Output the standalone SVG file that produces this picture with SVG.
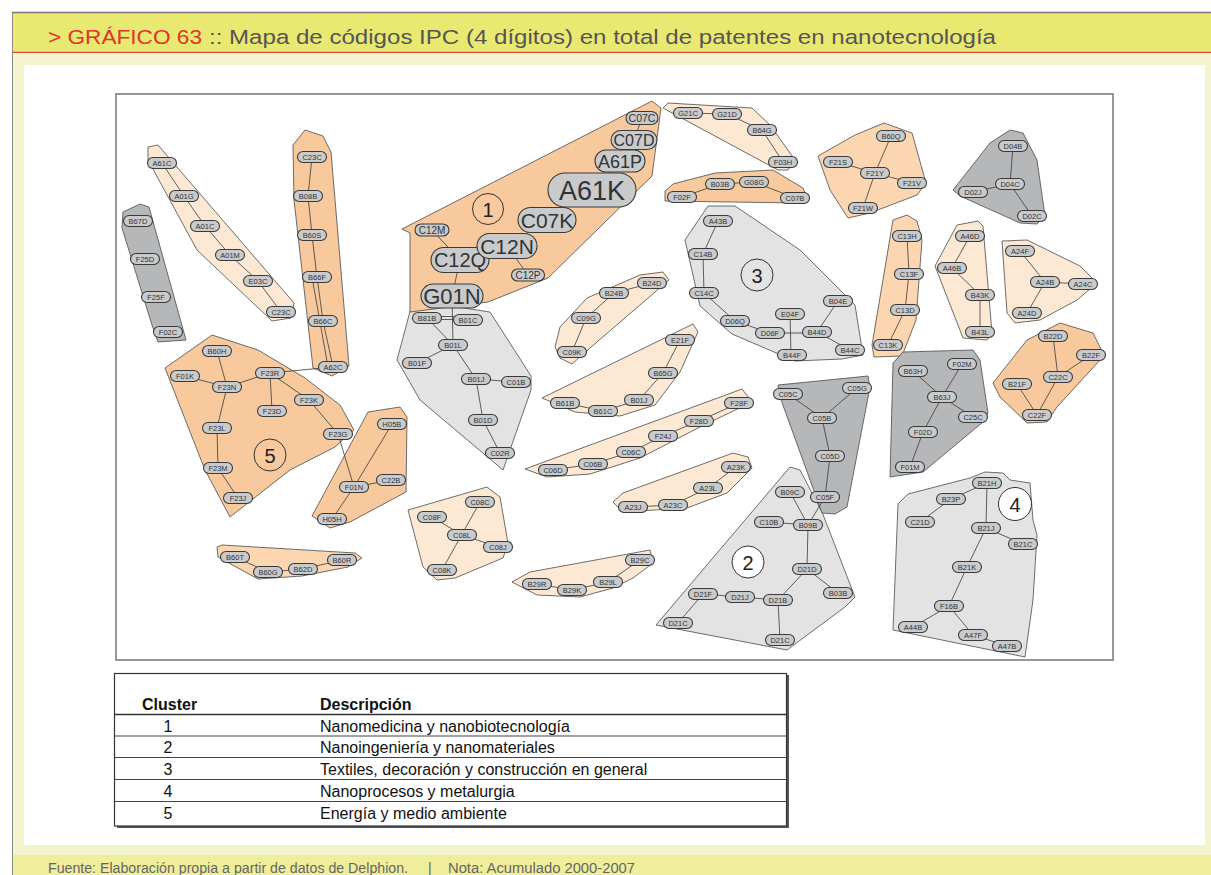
<svg xmlns="http://www.w3.org/2000/svg" width="1211" height="875" viewBox="0 0 1211 875">
<style>
.n rect{fill:#c9cacc;stroke:#3a3a3a;stroke-width:1.1}
.n text{font-family:"Liberation Sans",Arial,sans-serif;font-size:7.5px;fill:#333;text-anchor:middle}
.b text{fill:#333}
#connectors line{stroke:#3a3a3a;stroke-width:0.8}
#clusters polygon{stroke:#4a4a4a;stroke-width:0.8;stroke-linejoin:round}
.lo{fill:#fde8d4}.mo{fill:#f8c99d}.lm{fill:#fcd6b0}.lg{fill:#e3e3e3}.dg{fill:#b6b7b9}
.cn circle{stroke:#333;stroke-width:1}
.cn text{font-family:"Liberation Sans",Arial,sans-serif;font-size:20px;fill:#222;text-anchor:middle}
.tb{font-family:"Liberation Sans",Arial,sans-serif;font-size:16px;fill:#111}
</style>
<rect x="0" y="0" width="1211" height="875" fill="#ffffff"/>
<rect x="12" y="12" width="1199" height="41" fill="#e9e972"/>
<line x1="12" y1="12.5" x2="1211" y2="12.5" stroke="#777" stroke-width="1.5"/>
<line x1="12" y1="52.5" x2="1211" y2="52.5" stroke="#d9503f" stroke-width="1.5"/>
<rect x="12" y="53.5" width="1199" height="801.5" fill="#f4f4cf"/>
<rect x="24" y="65" width="1181" height="780" fill="#ffffff"/>
<rect x="12" y="855" width="1199" height="20" fill="#efee9a"/>
<line x1="12.5" y1="12" x2="12.5" y2="875" stroke="#8a8a8a" stroke-width="1"/>
<text x="48" y="44" font-family="Liberation Sans, Arial, sans-serif" font-size="20.5" fill="#e0352b" textLength="154" lengthAdjust="spacingAndGlyphs">&gt; GRÁFICO 63</text>
<text x="209" y="44" font-family="Liberation Sans, Arial, sans-serif" font-size="20.5" fill="#555" textLength="787" lengthAdjust="spacingAndGlyphs">:: Mapa de códigos IPC (4 dígitos) en total de patentes en nanotecnología</text>
<text x="48" y="873" font-family="Liberation Sans, Arial, sans-serif" font-size="14" fill="#666" textLength="360" lengthAdjust="spacingAndGlyphs">Fuente: Elaboración propia a partir de datos de Delphion.</text>
<text x="428" y="873" font-family="Liberation Sans, Arial, sans-serif" font-size="14" fill="#666">|</text>
<text x="448" y="873" font-family="Liberation Sans, Arial, sans-serif" font-size="14" fill="#666" textLength="187" lengthAdjust="spacingAndGlyphs">Nota: Acumulado 2000-2007</text>

<rect x="116" y="94" width="997" height="566" fill="#fff" stroke="#7d7d7d" stroke-width="1.6"/>

<g id="clusters">
<polygon class="lg" points="413,300 490,312 531,376 531,390 503,470 420,400 397,360"/>
<polygon class="mo" points="402,229 652,101 661,108 652,176 548,278 488,302 410,312 410,233"/>
<polygon class="lo" points="148,147 158,145 294,303 291,318 272,321 197,250 148,160"/>
<polygon class="dg" points="123,212 140,204 149,207 186,340 158,342 152,325 122,228"/>
<polygon class="mo" points="293,145 305,130 323,136 331,152 349,366 332,376 313,368 294,200"/>
<polygon class="lo" points="555,347 560,327 587,298 640,275 663,272 669,280 590,348 572,364 560,358"/>
<polygon class="lo" points="542,398 693,324 698,332 680,372 655,405 620,416 575,412"/>
<polygon class="lo" points="525,469 742,389 752,402 700,427 640,458 590,474 547,477"/>
<polygon class="lo" points="613,502 623,493 733,453 748,457 752,468 727,493 687,508 623,512"/>
<polygon class="lo" points="512,582 530,572 650,550 653,563 633,578 613,588 580,597 537,595"/>
<polygon class="lo" points="408,510 487,487 500,497 508,543 503,558 455,578 437,580 423,567"/>
<polygon class="mo" points="165,368 212,335 258,350 305,378 340,405 354,430 335,447 290,470 230,517 205,470"/>
<polygon class="mo" points="312,516 368,412 400,407 407,417 406,492 350,522 330,528"/>
<polygon class="lm" points="217,547 222,545 355,553 362,558 348,567 302,576 258,579 218,557"/>
<polygon class="lo" points="663,108 668,103 752,108 770,125 795,160 788,170 778,170"/>
<polygon class="mo" points="665,191 673,184 715,173 773,170 803,188 808,200 798,203 665,201"/>
<polygon class="lg" points="708,206 735,206 800,250 855,305 863,355 842,359 795,361 732,334 700,306 685,240"/>
<polygon class="lm" points="818,156 855,135 884,123 912,133 926,183 917,195 870,213 848,218 830,190"/>
<polygon class="dg" points="953,190 990,143 1010,130 1023,133 1037,160 1045,216 1037,224 1020,223 960,196"/>
<polygon class="lm" points="893,220 907,215 917,221 922,240 916,320 902,356 874,357 872,345"/>
<polygon class="lo" points="935,266 957,225 978,221 983,226 992,333 987,340 963,338"/>
<polygon class="lo" points="1002,241 1027,240 1080,266 1097,283 1077,300 1040,320 1015,323 1007,313"/>
<polygon class="mo" points="993,383 1027,340 1060,323 1093,333 1103,353 1100,360 1057,407 1047,422 1027,423 1000,397"/>
<polygon class="dg" points="893,363 903,352 973,350 980,360 988,413 983,422 923,472 890,477"/>
<polygon class="lg" points="790,467 800,470 822,512 855,597 845,607 787,650 656,625"/>
<polygon class="dg" points="778,385 868,376 870,387 847,507 835,514 822,513 780,397"/>
<polygon class="lg" points="893,630 898,504 908,494 970,478 985,472 1003,473 1010,480 1030,483 1033,520 1037,535 1033,600 1025,657"/>
</g>

<g id="connectors">
<line x1="162" y1="163" x2="184" y2="196"/><line x1="184" y1="196" x2="205" y2="226"/><line x1="205" y1="226" x2="230" y2="255"/><line x1="230" y1="255" x2="258" y2="281"/><line x1="258" y1="281" x2="281" y2="312"/>
<line x1="312" y1="157" x2="308" y2="196"/><line x1="308" y1="196" x2="312" y2="235"/><line x1="312" y1="235" x2="317" y2="277"/><line x1="317" y1="277" x2="323" y2="321"/><line x1="323" y1="321" x2="333" y2="367"/><line x1="312" y1="277" x2="328" y2="367"/>
<line x1="642" y1="118" x2="634" y2="140"/><line x1="634" y1="140" x2="620" y2="161"/><line x1="620" y1="161" x2="592" y2="190"/><line x1="592" y1="190" x2="547" y2="220"/><line x1="547" y1="220" x2="507" y2="246"/><line x1="507" y1="246" x2="460" y2="260"/><line x1="460" y1="260" x2="452" y2="296"/><line x1="432" y1="230" x2="460" y2="260"/><line x1="507" y1="246" x2="528" y2="275"/><line x1="452" y1="296" x2="453" y2="345"/>
<line x1="441" y1="316.5" x2="454" y2="316.5"/><line x1="441" y1="319.5" x2="454" y2="319.5"/>
<line x1="427" y1="318" x2="453" y2="345"/><line x1="453" y1="345" x2="417" y2="363"/><line x1="453" y1="345" x2="476" y2="379"/><line x1="476" y1="379" x2="516" y2="382"/><line x1="476" y1="379" x2="483" y2="420"/><line x1="483" y1="420" x2="500" y2="453"/>
<line x1="572" y1="352" x2="586" y2="318"/><line x1="586" y1="318" x2="614" y2="293"/><line x1="614" y1="293" x2="652" y2="283"/>
<line x1="565" y1="403" x2="603" y2="411"/><line x1="603" y1="411" x2="639" y2="400"/><line x1="639" y1="400" x2="663" y2="373"/><line x1="663" y1="373" x2="680" y2="340"/>
<line x1="553" y1="470" x2="593" y2="464"/><line x1="593" y1="464" x2="631" y2="452"/><line x1="631" y1="452" x2="663" y2="436"/><line x1="663" y1="436" x2="699" y2="421"/><line x1="699" y1="421" x2="739" y2="403"/>
<line x1="633" y1="507" x2="673" y2="505"/><line x1="673" y1="505" x2="708" y2="488"/><line x1="708" y1="488" x2="736" y2="467"/>
<line x1="537" y1="584" x2="572" y2="590"/><line x1="572" y1="590" x2="608" y2="582"/><line x1="608" y1="582" x2="640" y2="560"/>
<line x1="432" y1="517" x2="462" y2="535"/><line x1="462" y1="535" x2="498" y2="547"/><line x1="480" y1="502" x2="442" y2="570"/>
<line x1="217" y1="351" x2="227" y2="387"/><line x1="185" y1="376" x2="227" y2="387"/><line x1="227" y1="387" x2="270" y2="373"/><line x1="270" y1="373" x2="333" y2="367"/><line x1="270" y1="373" x2="272" y2="411"/><line x1="270" y1="373" x2="309" y2="400"/><line x1="309" y1="400" x2="338" y2="434"/><line x1="227" y1="387" x2="217" y2="428"/><line x1="217" y1="428" x2="218" y2="468"/><line x1="218" y1="468" x2="238" y2="498"/><line x1="338" y1="434" x2="354" y2="487"/>
<line x1="392" y1="424" x2="354" y2="487"/><line x1="354" y1="487" x2="332" y2="519"/><line x1="354" y1="487" x2="391" y2="480"/>
<line x1="235" y1="557" x2="268" y2="572"/><line x1="268" y1="572" x2="303" y2="569"/><line x1="303" y1="569" x2="342" y2="560"/>
<line x1="688" y1="113" x2="727" y2="114"/><line x1="727" y1="114" x2="762" y2="130"/><line x1="762" y1="130" x2="783" y2="162"/>
<line x1="682" y1="197" x2="720" y2="184"/><line x1="720" y1="184" x2="754" y2="182"/><line x1="754" y1="182" x2="795" y2="198"/>
<line x1="718" y1="221" x2="703" y2="254"/><line x1="703" y1="254" x2="704" y2="293"/><line x1="704" y1="293" x2="735" y2="321"/><line x1="735" y1="321" x2="770" y2="333"/><line x1="770" y1="333" x2="817" y2="333"/><line x1="790" y1="314" x2="791" y2="355"/><line x1="817" y1="332" x2="838" y2="301"/><line x1="817" y1="332" x2="850" y2="350"/>
<line x1="891" y1="136" x2="875" y2="173"/><line x1="875" y1="173" x2="863" y2="208"/><line x1="838" y1="162" x2="875" y2="173"/><line x1="875" y1="173" x2="912" y2="183"/>
<line x1="1013" y1="146" x2="1010" y2="184"/><line x1="973" y1="192" x2="1010" y2="184"/><line x1="1010" y1="184" x2="1032" y2="216"/>
<line x1="907" y1="236" x2="909" y2="274"/><line x1="909" y1="274" x2="905" y2="310"/><line x1="905" y1="310" x2="888" y2="345"/>
<line x1="970" y1="236" x2="952" y2="268"/><line x1="952" y1="268" x2="980" y2="295"/><line x1="980" y1="295" x2="980" y2="332"/>
<line x1="1020" y1="251" x2="1045" y2="282"/><line x1="1045" y1="282" x2="1083" y2="284"/><line x1="1045" y1="282" x2="1027" y2="313"/>
<line x1="1053" y1="336" x2="1058" y2="377"/><line x1="1091" y1="355" x2="1058" y2="377"/><line x1="1058" y1="377" x2="1037" y2="415"/><line x1="1017" y1="384" x2="1037" y2="415"/>
<line x1="913" y1="371" x2="942" y2="397"/><line x1="962" y1="364" x2="942" y2="397"/><line x1="942" y1="397" x2="973" y2="417"/><line x1="942" y1="397" x2="923" y2="432"/><line x1="923" y1="432" x2="910" y2="467"/>
<line x1="788" y1="394" x2="822" y2="418"/><line x1="857" y1="388" x2="822" y2="418"/><line x1="822" y1="418" x2="830" y2="456"/><line x1="830" y1="456" x2="825" y2="497"/><line x1="825" y1="497" x2="808" y2="525"/>
<line x1="790" y1="492" x2="808" y2="525"/><line x1="769" y1="522" x2="808" y2="525"/><line x1="808" y1="525" x2="807" y2="569"/><line x1="807" y1="569" x2="838" y2="593"/><line x1="807" y1="569" x2="778" y2="600"/><line x1="703" y1="594" x2="740" y2="597"/><line x1="740" y1="597" x2="778" y2="600"/><line x1="703" y1="594" x2="678" y2="623"/><line x1="778" y1="600" x2="780" y2="640"/>
<line x1="987" y1="483" x2="986" y2="528"/><line x1="951" y1="499" x2="987" y2="483"/><line x1="951" y1="499" x2="920" y2="522"/><line x1="986" y1="528" x2="1023" y2="544"/><line x1="986" y1="528" x2="967" y2="567"/><line x1="967" y1="567" x2="949" y2="606"/><line x1="949" y1="606" x2="913" y2="627"/><line x1="949" y1="606" x2="973" y2="635"/><line x1="973" y1="635" x2="1007" y2="646"/>
</g>

<g id="cluster-labels" class="cn">
<g id="c1"><circle cx="488" cy="209" r="15.5" fill="none"/><text x="488" y="216.5">1</text></g>
<g id="c2"><circle cx="748" cy="562" r="16" fill="#fff"/><text x="748" y="569.5">2</text></g>
<g id="c3"><circle cx="757" cy="275" r="16" fill="none"/><text x="757" y="282.5">3</text></g>
<g id="c4"><circle cx="1015" cy="504" r="16.5" fill="#fff"/><text x="1015" y="511.5">4</text></g>
<g id="c5"><circle cx="270" cy="455" r="16" fill="none"/><text x="270" y="462.5">5</text></g>
</g>

<g id="n-A61C" class="n"><rect x="147.5" y="157.5" width="29" height="11" rx="5.5"/><text x="162" y="165.7">A61C</text></g>
<g id="n-A01G" class="n"><rect x="169.5" y="190.5" width="29" height="11" rx="5.5"/><text x="184" y="198.7">A01G</text></g>
<g id="n-A01C" class="n"><rect x="190.5" y="220.5" width="29" height="11" rx="5.5"/><text x="205" y="228.7">A01C</text></g>
<g id="n-A01M" class="n"><rect x="215.5" y="249.5" width="29" height="11" rx="5.5"/><text x="230" y="257.7">A01M</text></g>
<g id="n-E03C" class="n"><rect x="243.5" y="275.5" width="29" height="11" rx="5.5"/><text x="258" y="283.7">E03C</text></g>
<g id="n-C23C-2" class="n"><rect x="266.5" y="306.5" width="29" height="11" rx="5.5"/><text x="281" y="314.7">C23C</text></g>
<g id="n-B67D" class="n"><rect x="123.5" y="215.5" width="29" height="11" rx="5.5"/><text x="138" y="223.7">B67D</text></g>
<g id="n-F25D" class="n"><rect x="130.5" y="253.5" width="29" height="11" rx="5.5"/><text x="145" y="261.7">F25D</text></g>
<g id="n-F25F" class="n"><rect x="141.5" y="291.5" width="29" height="11" rx="5.5"/><text x="156" y="299.7">F25F</text></g>
<g id="n-F02C" class="n"><rect x="153.5" y="326.5" width="29" height="11" rx="5.5"/><text x="168" y="334.7">F02C</text></g>
<g id="n-C23C" class="n"><rect x="297.5" y="151.5" width="29" height="11" rx="5.5"/><text x="312" y="159.7">C23C</text></g>
<g id="n-B08B" class="n"><rect x="293.5" y="190.5" width="29" height="11" rx="5.5"/><text x="308" y="198.7">B08B</text></g>
<g id="n-B60S" class="n"><rect x="297.5" y="229.5" width="29" height="11" rx="5.5"/><text x="312" y="237.7">B60S</text></g>
<g id="n-B66F" class="n"><rect x="302.5" y="271.5" width="29" height="11" rx="5.5"/><text x="317" y="279.7">B66F</text></g>
<g id="n-B66C" class="n"><rect x="308.5" y="315.5" width="29" height="11" rx="5.5"/><text x="323" y="323.7">B66C</text></g>
<g id="n-A62C" class="n"><rect x="318.5" y="361.5" width="29" height="11" rx="5.5"/><text x="333" y="369.7">A62C</text></g>

<g id="n-C07C" class="n"><rect x="626" y="111.5" width="32" height="13" rx="6.5"/><text x="642" y="121.8" style="font-size:10.5px">C07C</text></g>
<g id="n-C07D" class="n"><rect x="611" y="130.5" width="46" height="19" rx="9.5"/><text x="634" y="145.8" style="font-size:16px">C07D</text></g>
<g id="n-A61P" class="n"><rect x="595" y="150" width="50" height="22" rx="11"/><text x="620" y="167.5" style="font-size:18px">A61P</text></g>
<g id="n-A61K" class="n"><rect x="548" y="173" width="88" height="34" rx="17"/><text x="592" y="199.7" style="font-size:27px">A61K</text></g>
<g id="n-C07K" class="n"><rect x="518" y="207.5" width="58" height="25" rx="12.5"/><text x="547" y="227.5" style="font-size:21px">C07K</text></g>
<g id="n-C12Q" class="n"><rect x="431" y="247.5" width="58" height="25" rx="12.5"/><text x="460" y="267.2" style="font-size:20px">C12Q</text></g>
<g id="n-C12N" class="n"><rect x="477" y="233.5" width="60" height="25" rx="12.5"/><text x="507" y="253.5" style="font-size:21px">C12N</text></g>
<g id="n-C12M" class="n"><rect x="415" y="224" width="34" height="12" rx="6"/><text x="432" y="233.6" style="font-size:10px">C12M</text></g>
<g id="n-C12P" class="n"><rect x="511.5" y="269" width="33" height="12" rx="6"/><text x="528" y="278.6" style="font-size:10px">C12P</text></g>
<g id="n-G01N" class="n"><rect x="421" y="284" width="62" height="24" rx="12"/><text x="452" y="304" style="font-size:22px">G01N</text></g>

<g id="n-B81B" class="n"><rect x="412.5" y="312.5" width="29" height="11" rx="5.5"/><text x="427" y="320.7">B81B</text></g>
<g id="n-B01C" class="n"><rect x="453.5" y="314.5" width="29" height="11" rx="5.5"/><text x="468" y="322.7">B01C</text></g>
<g id="n-B01L" class="n"><rect x="438.5" y="339.5" width="29" height="11" rx="5.5"/><text x="453" y="347.7">B01L</text></g>
<g id="n-B01F" class="n"><rect x="402.5" y="357.5" width="29" height="11" rx="5.5"/><text x="417" y="365.7">B01F</text></g>
<g id="n-B01J" class="n"><rect x="461.5" y="373.5" width="29" height="11" rx="5.5"/><text x="476" y="381.7">B01J</text></g>
<g id="n-C01B" class="n"><rect x="501.5" y="376.5" width="29" height="11" rx="5.5"/><text x="516" y="384.7">C01B</text></g>
<g id="n-B01D" class="n"><rect x="468.5" y="414.5" width="29" height="11" rx="5.5"/><text x="483" y="422.7">B01D</text></g>
<g id="n-C02R" class="n"><rect x="485.5" y="447.5" width="29" height="11" rx="5.5"/><text x="500" y="455.7">C02R</text></g>

<g id="n-B24D" class="n"><rect x="637.5" y="277.5" width="29" height="11" rx="5.5"/><text x="652" y="285.7">B24D</text></g>
<g id="n-B24B" class="n"><rect x="599.5" y="287.5" width="29" height="11" rx="5.5"/><text x="614" y="295.7">B24B</text></g>
<g id="n-C09G" class="n"><rect x="571.5" y="312.5" width="29" height="11" rx="5.5"/><text x="586" y="320.7">C09G</text></g>
<g id="n-C09K" class="n"><rect x="557.5" y="346.5" width="29" height="11" rx="5.5"/><text x="572" y="354.7">C09K</text></g>

<g id="n-B61B" class="n"><rect x="550.5" y="397.5" width="29" height="11" rx="5.5"/><text x="565" y="405.7">B61B</text></g>
<g id="n-B61C" class="n"><rect x="588.5" y="405.5" width="29" height="11" rx="5.5"/><text x="603" y="413.7">B61C</text></g>
<g id="n-B01J-2" class="n"><rect x="624.5" y="394.5" width="29" height="11" rx="5.5"/><text x="639" y="402.7">B01J</text></g>
<g id="n-B65G" class="n"><rect x="648.5" y="367.5" width="29" height="11" rx="5.5"/><text x="663" y="375.7">B65G</text></g>
<g id="n-E21F" class="n"><rect x="665.5" y="334.5" width="29" height="11" rx="5.5"/><text x="680" y="342.7">E21F</text></g>

<g id="n-C06D" class="n"><rect x="538.5" y="464.5" width="29" height="11" rx="5.5"/><text x="553" y="472.7">C06D</text></g>
<g id="n-C06B" class="n"><rect x="578.5" y="458.5" width="29" height="11" rx="5.5"/><text x="593" y="466.7">C06B</text></g>
<g id="n-C06C" class="n"><rect x="616.5" y="446.5" width="29" height="11" rx="5.5"/><text x="631" y="454.7">C06C</text></g>
<g id="n-F24J" class="n"><rect x="648.5" y="430.5" width="29" height="11" rx="5.5"/><text x="663" y="438.7">F24J</text></g>
<g id="n-F28D" class="n"><rect x="684.5" y="415.5" width="29" height="11" rx="5.5"/><text x="699" y="423.7">F28D</text></g>
<g id="n-F28F" class="n"><rect x="724.5" y="397.5" width="29" height="11" rx="5.5"/><text x="739" y="405.7">F28F</text></g>

<g id="n-A23J" class="n"><rect x="618.5" y="501.5" width="29" height="11" rx="5.5"/><text x="633" y="509.7">A23J</text></g>
<g id="n-A23C" class="n"><rect x="658.5" y="499.5" width="29" height="11" rx="5.5"/><text x="673" y="507.7">A23C</text></g>
<g id="n-A23L" class="n"><rect x="693.5" y="482.5" width="29" height="11" rx="5.5"/><text x="708" y="490.7">A23L</text></g>
<g id="n-A23K" class="n"><rect x="721.5" y="461.5" width="29" height="11" rx="5.5"/><text x="736" y="469.7">A23K</text></g>

<g id="n-B29R" class="n"><rect x="522.5" y="578.5" width="29" height="11" rx="5.5"/><text x="537" y="586.7">B29R</text></g>
<g id="n-B29K" class="n"><rect x="557.5" y="584.5" width="29" height="11" rx="5.5"/><text x="572" y="592.7">B29K</text></g>
<g id="n-B29L" class="n"><rect x="593.5" y="576.5" width="29" height="11" rx="5.5"/><text x="608" y="584.7">B29L</text></g>
<g id="n-B29C" class="n"><rect x="625.5" y="554.5" width="29" height="11" rx="5.5"/><text x="640" y="562.7">B29C</text></g>

<g id="n-C08C" class="n"><rect x="465.5" y="496.5" width="29" height="11" rx="5.5"/><text x="480" y="504.7">C08C</text></g>
<g id="n-C08F" class="n"><rect x="417.5" y="511.5" width="29" height="11" rx="5.5"/><text x="432" y="519.7">C08F</text></g>
<g id="n-C08L" class="n"><rect x="447.5" y="529.5" width="29" height="11" rx="5.5"/><text x="462" y="537.7">C08L</text></g>
<g id="n-C08J" class="n"><rect x="483.5" y="541.5" width="29" height="11" rx="5.5"/><text x="498" y="549.7">C08J</text></g>
<g id="n-C08K" class="n"><rect x="427.5" y="564.5" width="29" height="11" rx="5.5"/><text x="442" y="572.7">C08K</text></g>

<g id="n-B60H" class="n"><rect x="202.5" y="345.5" width="29" height="11" rx="5.5"/><text x="217" y="353.7">B60H</text></g>
<g id="n-F01K" class="n"><rect x="170.5" y="370.5" width="29" height="11" rx="5.5"/><text x="185" y="378.7">F01K</text></g>
<g id="n-F23N" class="n"><rect x="212.5" y="381.5" width="29" height="11" rx="5.5"/><text x="227" y="389.7">F23N</text></g>
<g id="n-F23R" class="n"><rect x="255.5" y="367.5" width="29" height="11" rx="5.5"/><text x="270" y="375.7">F23R</text></g>
<g id="n-F23D" class="n"><rect x="257.5" y="405.5" width="29" height="11" rx="5.5"/><text x="272" y="413.7">F23D</text></g>
<g id="n-F23K" class="n"><rect x="294.5" y="394.5" width="29" height="11" rx="5.5"/><text x="309" y="402.7">F23K</text></g>
<g id="n-F23G" class="n"><rect x="323.5" y="428.5" width="29" height="11" rx="5.5"/><text x="338" y="436.7">F23G</text></g>
<g id="n-F23L" class="n"><rect x="202.5" y="422.5" width="29" height="11" rx="5.5"/><text x="217" y="430.7">F23L</text></g>
<g id="n-F23M" class="n"><rect x="203.5" y="462.5" width="29" height="11" rx="5.5"/><text x="218" y="470.7">F23M</text></g>
<g id="n-F23J" class="n"><rect x="223.5" y="492.5" width="29" height="11" rx="5.5"/><text x="238" y="500.7">F23J</text></g>

<g id="n-H05B" class="n"><rect x="377.5" y="418.5" width="29" height="11" rx="5.5"/><text x="392" y="426.7">H05B</text></g>
<g id="n-F01N" class="n"><rect x="339.5" y="481.5" width="29" height="11" rx="5.5"/><text x="354" y="489.7">F01N</text></g>
<g id="n-C22B" class="n"><rect x="376.5" y="474.5" width="29" height="11" rx="5.5"/><text x="391" y="482.7">C22B</text></g>
<g id="n-H05H" class="n"><rect x="317.5" y="513.5" width="29" height="11" rx="5.5"/><text x="332" y="521.7">H05H</text></g>

<g id="n-B60T" class="n"><rect x="220.5" y="551.5" width="29" height="11" rx="5.5"/><text x="235" y="559.7">B60T</text></g>
<g id="n-B60G" class="n"><rect x="253.5" y="566.5" width="29" height="11" rx="5.5"/><text x="268" y="574.7">B60G</text></g>
<g id="n-B62D" class="n"><rect x="288.5" y="563.5" width="29" height="11" rx="5.5"/><text x="303" y="571.7">B62D</text></g>
<g id="n-B60R" class="n"><rect x="327.5" y="554.5" width="29" height="11" rx="5.5"/><text x="342" y="562.7">B60R</text></g>

<g id="n-G21C" class="n"><rect x="673.5" y="107.5" width="29" height="11" rx="5.5"/><text x="688" y="115.7">G21C</text></g>
<g id="n-G21D" class="n"><rect x="712.5" y="108.5" width="29" height="11" rx="5.5"/><text x="727" y="116.7">G21D</text></g>
<g id="n-B64G" class="n"><rect x="747.5" y="124.5" width="29" height="11" rx="5.5"/><text x="762" y="132.7">B64G</text></g>
<g id="n-F03H" class="n"><rect x="768.5" y="156.5" width="29" height="11" rx="5.5"/><text x="783" y="164.7">F03H</text></g>

<g id="n-F02F" class="n"><rect x="667.5" y="191.5" width="29" height="11" rx="5.5"/><text x="682" y="199.7">F02F</text></g>
<g id="n-B03B" class="n"><rect x="705.5" y="178.5" width="29" height="11" rx="5.5"/><text x="720" y="186.7">B03B</text></g>
<g id="n-G08G" class="n"><rect x="739.5" y="176.5" width="29" height="11" rx="5.5"/><text x="754" y="184.7">G08G</text></g>
<g id="n-C07B" class="n"><rect x="780.5" y="192.5" width="29" height="11" rx="5.5"/><text x="795" y="200.7">C07B</text></g>

<g id="n-A43B" class="n"><rect x="703.5" y="215.5" width="29" height="11" rx="5.5"/><text x="718" y="223.7">A43B</text></g>
<g id="n-C14B" class="n"><rect x="688.5" y="248.5" width="29" height="11" rx="5.5"/><text x="703" y="256.7">C14B</text></g>
<g id="n-C14C" class="n"><rect x="689.5" y="287.5" width="29" height="11" rx="5.5"/><text x="704" y="295.7">C14C</text></g>
<g id="n-D06Q" class="n"><rect x="720.5" y="315.5" width="29" height="11" rx="5.5"/><text x="735" y="323.7">D06Q</text></g>
<g id="n-D06F" class="n"><rect x="755.5" y="327.5" width="29" height="11" rx="5.5"/><text x="770" y="335.7">D06F</text></g>
<g id="n-E04F" class="n"><rect x="775.5" y="308.5" width="29" height="11" rx="5.5"/><text x="790" y="316.7">E04F</text></g>
<g id="n-B44D" class="n"><rect x="802.5" y="326.5" width="29" height="11" rx="5.5"/><text x="817" y="334.7">B44D</text></g>
<g id="n-B04E" class="n"><rect x="823.5" y="295.5" width="29" height="11" rx="5.5"/><text x="838" y="303.7">B04E</text></g>
<g id="n-B44F" class="n"><rect x="777.5" y="349.5" width="29" height="11" rx="5.5"/><text x="792" y="357.7">B44F</text></g>
<g id="n-B44C" class="n"><rect x="835.5" y="344.5" width="29" height="11" rx="5.5"/><text x="850" y="352.7">B44C</text></g>

<g id="n-F21S" class="n"><rect x="823.5" y="156.5" width="29" height="11" rx="5.5"/><text x="838" y="164.7">F21S</text></g>
<g id="n-F21Y" class="n"><rect x="860.5" y="167.5" width="29" height="11" rx="5.5"/><text x="875" y="175.7">F21Y</text></g>
<g id="n-F21W" class="n"><rect x="848.5" y="202.5" width="29" height="11" rx="5.5"/><text x="863" y="210.7">F21W</text></g>
<g id="n-B60Q" class="n"><rect x="876.5" y="130.5" width="29" height="11" rx="5.5"/><text x="891" y="138.7">B60Q</text></g>
<g id="n-F21V" class="n"><rect x="897.5" y="177.5" width="29" height="11" rx="5.5"/><text x="912" y="185.7">F21V</text></g>

<g id="n-D04B" class="n"><rect x="998.5" y="140.5" width="29" height="11" rx="5.5"/><text x="1013" y="148.7">D04B</text></g>
<g id="n-D04C" class="n"><rect x="995.5" y="178.5" width="29" height="11" rx="5.5"/><text x="1010" y="186.7">D04C</text></g>
<g id="n-D02J" class="n"><rect x="958.5" y="186.5" width="29" height="11" rx="5.5"/><text x="973" y="194.7">D02J</text></g>
<g id="n-D02C" class="n"><rect x="1017.5" y="210.5" width="29" height="11" rx="5.5"/><text x="1032" y="218.7">D02C</text></g>

<g id="n-C13H" class="n"><rect x="892.5" y="230.5" width="29" height="11" rx="5.5"/><text x="907" y="238.7">C13H</text></g>
<g id="n-C13F" class="n"><rect x="894.5" y="268.5" width="29" height="11" rx="5.5"/><text x="909" y="276.7">C13F</text></g>
<g id="n-C13D" class="n"><rect x="890.5" y="304.5" width="29" height="11" rx="5.5"/><text x="905" y="312.7">C13D</text></g>
<g id="n-C13K" class="n"><rect x="873.5" y="339.5" width="29" height="11" rx="5.5"/><text x="888" y="347.7">C13K</text></g>

<g id="n-A46D" class="n"><rect x="955.5" y="230.5" width="29" height="11" rx="5.5"/><text x="970" y="238.7">A46D</text></g>
<g id="n-A46B" class="n"><rect x="937.5" y="262.5" width="29" height="11" rx="5.5"/><text x="952" y="270.7">A46B</text></g>
<g id="n-B43K" class="n"><rect x="965.5" y="289.5" width="29" height="11" rx="5.5"/><text x="980" y="297.7">B43K</text></g>
<g id="n-B43L" class="n"><rect x="965.5" y="326.5" width="29" height="11" rx="5.5"/><text x="980" y="334.7">B43L</text></g>

<g id="n-A24F" class="n"><rect x="1005.5" y="245.5" width="29" height="11" rx="5.5"/><text x="1020" y="253.7">A24F</text></g>
<g id="n-A24B" class="n"><rect x="1030.5" y="276.5" width="29" height="11" rx="5.5"/><text x="1045" y="284.7">A24B</text></g>
<g id="n-A24C" class="n"><rect x="1068.5" y="278.5" width="29" height="11" rx="5.5"/><text x="1083" y="286.7">A24C</text></g>
<g id="n-A24D" class="n"><rect x="1012.5" y="307.5" width="29" height="11" rx="5.5"/><text x="1027" y="315.7">A24D</text></g>

<g id="n-B22D" class="n"><rect x="1038.5" y="330.5" width="29" height="11" rx="5.5"/><text x="1053" y="338.7">B22D</text></g>
<g id="n-B22F" class="n"><rect x="1076.5" y="349.5" width="29" height="11" rx="5.5"/><text x="1091" y="357.7">B22F</text></g>
<g id="n-C22C" class="n"><rect x="1043.5" y="371.5" width="29" height="11" rx="5.5"/><text x="1058" y="379.7">C22C</text></g>
<g id="n-B21F" class="n"><rect x="1002.5" y="378.5" width="29" height="11" rx="5.5"/><text x="1017" y="386.7">B21F</text></g>
<g id="n-C22F" class="n"><rect x="1022.5" y="409.5" width="29" height="11" rx="5.5"/><text x="1037" y="417.7">C22F</text></g>

<g id="n-B63H" class="n"><rect x="898.5" y="365.5" width="29" height="11" rx="5.5"/><text x="913" y="373.7">B63H</text></g>
<g id="n-F02M" class="n"><rect x="947.5" y="358.5" width="29" height="11" rx="5.5"/><text x="962" y="366.7">F02M</text></g>
<g id="n-B63J" class="n"><rect x="927.5" y="391.5" width="29" height="11" rx="5.5"/><text x="942" y="399.7">B63J</text></g>
<g id="n-C25C" class="n"><rect x="958.5" y="411.5" width="29" height="11" rx="5.5"/><text x="973" y="419.7">C25C</text></g>
<g id="n-F02D" class="n"><rect x="908.5" y="426.5" width="29" height="11" rx="5.5"/><text x="923" y="434.7">F02D</text></g>
<g id="n-F01M" class="n"><rect x="895.5" y="461.5" width="29" height="11" rx="5.5"/><text x="910" y="469.7">F01M</text></g>

<g id="n-C05C" class="n"><rect x="773.5" y="388.5" width="29" height="11" rx="5.5"/><text x="788" y="396.7">C05C</text></g>
<g id="n-C05G" class="n"><rect x="842.5" y="382.5" width="29" height="11" rx="5.5"/><text x="857" y="390.7">C05G</text></g>
<g id="n-C05B" class="n"><rect x="807.5" y="412.5" width="29" height="11" rx="5.5"/><text x="822" y="420.7">C05B</text></g>
<g id="n-C05D" class="n"><rect x="815.5" y="450.5" width="29" height="11" rx="5.5"/><text x="830" y="458.7">C05D</text></g>
<g id="n-C05F" class="n"><rect x="810.5" y="491.5" width="29" height="11" rx="5.5"/><text x="825" y="499.7">C05F</text></g>

<g id="n-B09C" class="n"><rect x="775.5" y="486.5" width="29" height="11" rx="5.5"/><text x="790" y="494.7">B09C</text></g>
<g id="n-C10B" class="n"><rect x="754.5" y="516.5" width="29" height="11" rx="5.5"/><text x="769" y="524.7">C10B</text></g>
<g id="n-B09B" class="n"><rect x="793.5" y="519.5" width="29" height="11" rx="5.5"/><text x="808" y="527.7">B09B</text></g>
<g id="n-D21D" class="n"><rect x="792.5" y="563.5" width="29" height="11" rx="5.5"/><text x="807" y="571.7">D21D</text></g>
<g id="n-B03B-2" class="n"><rect x="823.5" y="587.5" width="29" height="11" rx="5.5"/><text x="838" y="595.7">B03B</text></g>
<g id="n-D21F" class="n"><rect x="688.5" y="588.5" width="29" height="11" rx="5.5"/><text x="703" y="596.7">D21F</text></g>
<g id="n-D21J" class="n"><rect x="725.5" y="591.5" width="29" height="11" rx="5.5"/><text x="740" y="599.7">D21J</text></g>
<g id="n-D21B" class="n"><rect x="763.5" y="594.5" width="29" height="11" rx="5.5"/><text x="778" y="602.7">D21B</text></g>
<g id="n-D21C" class="n"><rect x="663.5" y="617.5" width="29" height="11" rx="5.5"/><text x="678" y="625.7">D21C</text></g>
<g id="n-D21C-2" class="n"><rect x="765.5" y="634.5" width="29" height="11" rx="5.5"/><text x="780" y="642.7">D21C</text></g>

<g id="n-B21H" class="n"><rect x="972.5" y="477.5" width="29" height="11" rx="5.5"/><text x="987" y="485.7">B21H</text></g>
<g id="n-B23P" class="n"><rect x="936.5" y="493.5" width="29" height="11" rx="5.5"/><text x="951" y="501.7">B23P</text></g>
<g id="n-C21D" class="n"><rect x="905.5" y="516.5" width="29" height="11" rx="5.5"/><text x="920" y="524.7">C21D</text></g>
<g id="n-B21J" class="n"><rect x="971.5" y="522.5" width="29" height="11" rx="5.5"/><text x="986" y="530.7">B21J</text></g>
<g id="n-B21C" class="n"><rect x="1008.5" y="538.5" width="29" height="11" rx="5.5"/><text x="1023" y="546.7">B21C</text></g>
<g id="n-B21K" class="n"><rect x="952.5" y="561.5" width="29" height="11" rx="5.5"/><text x="967" y="569.7">B21K</text></g>
<g id="n-F16B" class="n"><rect x="934.5" y="600.5" width="29" height="11" rx="5.5"/><text x="949" y="608.7">F16B</text></g>
<g id="n-A44B" class="n"><rect x="898.5" y="621.5" width="29" height="11" rx="5.5"/><text x="913" y="629.7">A44B</text></g>
<g id="n-A47F" class="n"><rect x="958.5" y="629.5" width="29" height="11" rx="5.5"/><text x="973" y="637.7">A47F</text></g>
<g id="n-A47B" class="n"><rect x="992.5" y="640.5" width="29" height="11" rx="5.5"/><text x="1007" y="648.7">A47B</text></g>

<g id="legend-table">
<rect x="117" y="675" width="672" height="153" fill="#555"/>
<rect x="114.5" y="673.5" width="672" height="152.5" fill="#fff" stroke="#333" stroke-width="1.2"/>
<line x1="115" y1="714.5" x2="786" y2="714.5" stroke="#333" stroke-width="1.5"/>
<line x1="115" y1="736" x2="786" y2="736" stroke="#444" stroke-width="1.2"/>
<line x1="115" y1="757.5" x2="786" y2="757.5" stroke="#444" stroke-width="1.2"/>
<line x1="115" y1="779.5" x2="786" y2="779.5" stroke="#444" stroke-width="1.2"/>
<line x1="115" y1="801.5" x2="786" y2="801.5" stroke="#444" stroke-width="1.2"/>
<text x="142" y="709.5" class="tb" font-weight="bold">Cluster</text>
<text x="320" y="709.5" class="tb" font-weight="bold">Descripción</text>
<text x="168" y="731.5" class="tb" text-anchor="middle">1</text>
<text x="320" y="731.5" class="tb">Nanomedicina y nanobiotecnología</text>
<text x="168" y="753" class="tb" text-anchor="middle">2</text>
<text x="320" y="753" class="tb">Nanoingeniería y nanomateriales</text>
<text x="168" y="775" class="tb" text-anchor="middle">3</text>
<text x="320" y="775" class="tb">Textiles, decoración y construcción en general</text>
<text x="168" y="797" class="tb" text-anchor="middle">4</text>
<text x="320" y="797" class="tb">Nanoprocesos y metalurgia</text>
<text x="168" y="819" class="tb" text-anchor="middle">5</text>
<text x="320" y="819" class="tb">Energía y medio ambiente</text>
</g>
</svg>
